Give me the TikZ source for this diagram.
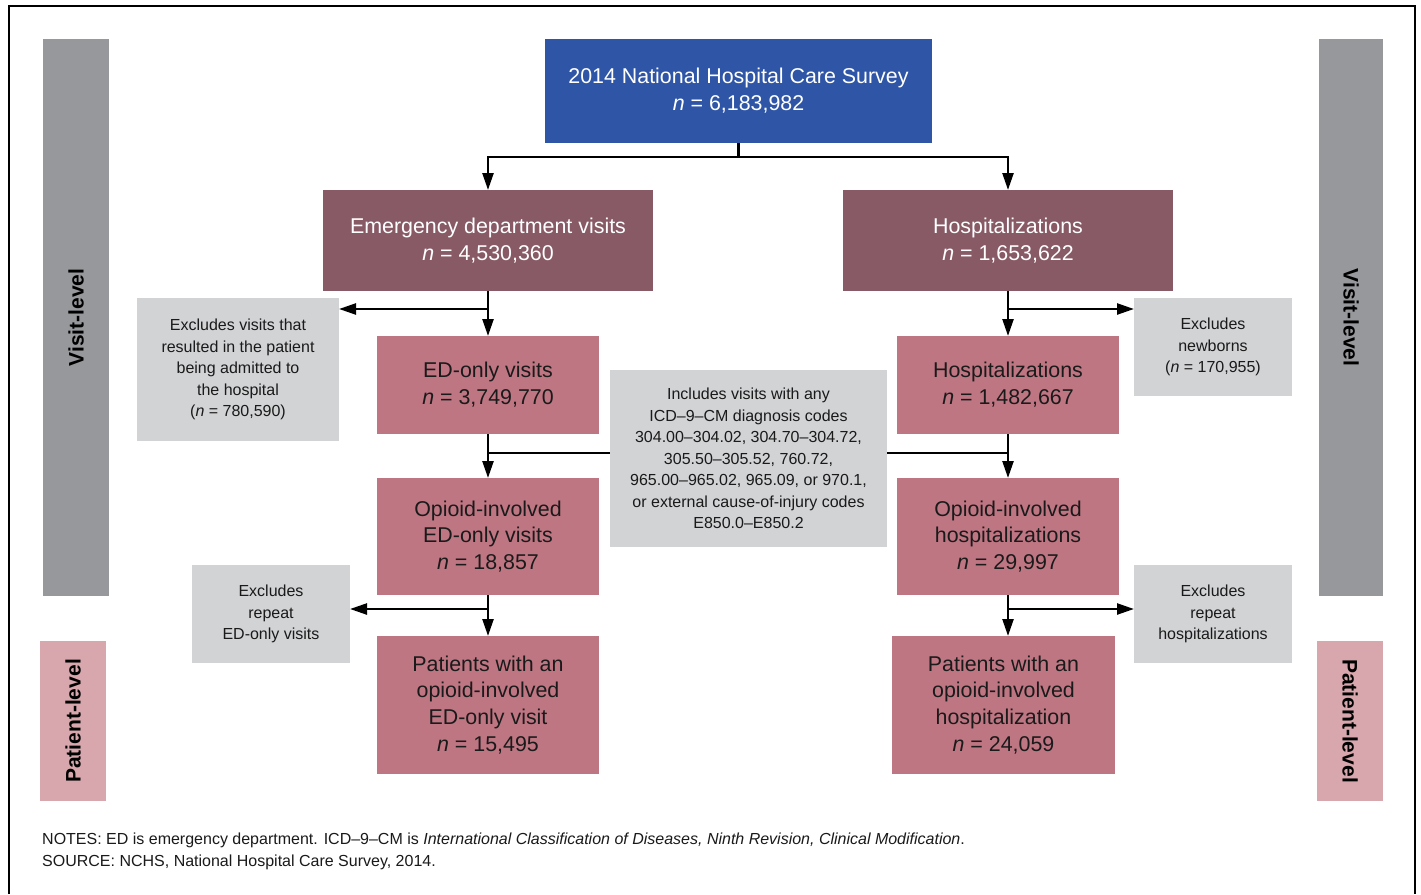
\documentclass[tikz,border=0pt]{standalone}
\usepackage{fontspec}
\setmainfont{Liberation Sans}
\usetikzlibrary{arrows.meta}

\definecolor{surveyblue}{RGB}{47,85,166}
\definecolor{mauve}{RGB}{135,90,102}
\definecolor{rose}{RGB}{191,118,131}
\definecolor{notegray}{RGB}{210,211,213}
\definecolor{bargray}{RGB}{151,152,156}
\definecolor{barpink}{RGB}{216,166,173}
\definecolor{ink}{RGB}{26,26,26}

\newcommand\boxfont{\fontsize{21.4}{26.8}\selectfont}
\newcommand\notefont{\fontsize{16}{21.5}\selectfont}
\newcommand\footfont{\fontsize{16}{22}\selectfont}
\newcommand\barfont{\fontsize{21}{26}\selectfont\bfseries}

\begin{document}
\begin{tikzpicture}[x=1pt,y=-1pt,
  blk/.style={inner sep=0pt, outer sep=0pt, align=center, anchor=center},
  topbox/.style={blk, fill=surveyblue, text=white, font=\boxfont},
  splitbox/.style={blk, fill=mauve, text=white, font=\boxfont},
  stagebox/.style={blk, fill=rose, text=ink, font=\boxfont},
  notebox/.style={blk, fill=notegray, text=ink, font=\notefont},
  levelbar/.style={blk},
  barlabel/.style={blk, text=black, font=\barfont},
  conn/.style={line width=2.4pt, black},
  flow/.style={conn, -{Triangle[length=17pt,width=11pt]}}
]
\useasboundingbox (0,0) rectangle (1421,894);
\fill[white] (0,0) rectangle (1421,894);

% outer frame, open at the bottom
\draw[line width=1.6pt] (9,894) -- (9,6) -- (1415,6) -- (1415,894);

% level bars on both sides
\node[levelbar, fill=bargray, minimum width=66, minimum height=557] (visitL) at (76,317.5) {};
\node[levelbar, fill=barpink, minimum width=66, minimum height=160] (patL) at (73,721) {};
\node[levelbar, fill=bargray, minimum width=64, minimum height=557] (visitR) at (1351,317.5) {};
\node[levelbar, fill=barpink, minimum width=66, minimum height=160] (patR) at (1350,721) {};
\node[barlabel, rotate=90] (visitLt) at (visitL.center) {Visit-level};
\node[barlabel, rotate=90] (patLt) at (patL.center) {Patient-level};
\node[barlabel, rotate=-90] (visitRt) at (visitR.center) {Visit-level};
\node[barlabel, rotate=-90] (patRt) at (patR.center) {Patient-level};

% flow boxes
\node[topbox, minimum width=387, minimum height=104] (survey) at (738.5,91)
  {2014 National Hospital Care Survey\\\textit{n} = 6,183,982};
\node[splitbox, minimum width=330, minimum height=101] (ed) at (488,240.5)
  {Emergency department visits\\\textit{n} = 4,530,360};
\node[splitbox, minimum width=330, minimum height=101] (hosp) at (1008,240.5)
  {Hospitalizations\\\textit{n} = 1,653,622};
\node[stagebox, minimum width=222, minimum height=98] (edonly) at (488,385)
  {ED-only visits\\\textit{n} = 3,749,770};
\node[stagebox, minimum width=222, minimum height=98] (hospb) at (1008,385)
  {Hospitalizations\\\textit{n} = 1,482,667};
\node[stagebox, minimum width=222, minimum height=117] (oed) at (488,536.5)
  {Opioid-involved\\ED-only visits\\\textit{n} = 18,857};
\node[stagebox, minimum width=222, minimum height=117] (ohosp) at (1008,536.5)
  {Opioid-involved\\hospitalizations\\\textit{n} = 29,997};
\node[stagebox, minimum width=222, minimum height=138] (ped) at (488,705)
  {Patients with an\\opioid-involved\\ED-only visit\\\textit{n} = 15,495};
\node[stagebox, minimum width=223, minimum height=138] (phosp) at (1003.5,705)
  {Patients with an\\opioid-involved\\hospitalization\\\textit{n} = 24,059};

% side notes
\node[notebox, minimum width=202, minimum height=143] (exadm) at (238,369.5)
  {Excludes visits that\\resulted in the patient\\being admitted to\\the hospital\\(\textit{n} = 780,590)};
\node[notebox, minimum width=158, minimum height=98] (exnew) at (1213,347)
  {Excludes\\newborns\\(\textit{n} = 170,955)};
\node[notebox, minimum width=277, minimum height=177] (incl) at (748.5,458.5)
  {Includes visits with any\\ICD--9--CM diagnosis codes\\304.00--304.02, 304.70--304.72,\\305.50--305.52, 760.72,\\965.00--965.02, 965.09, or 970.1,\\or external cause-of-injury codes\\E850.0--E850.2};
\node[notebox, minimum width=158, minimum height=98] (exrepa) at (271,614)
  {Excludes\\repeat\\ED-only visits};
\node[notebox, minimum width=158, minimum height=98] (exrepb) at (1213,614)
  {Excludes\\repeat\\hospitalizations};

% junction points on the vertical flow lines
\coordinate (fork) at (738.5,157);
\coordinate (edsplit) at (488,309);
\coordinate (hsplit) at (1008,309);
\coordinate (edmid) at (488,453);
\coordinate (hmid) at (1008,453);
\coordinate (edrep) at (488,609);
\coordinate (hrep) at (1008,609);

% connectors
\draw[conn] (survey.south) -- (fork);
\draw[flow] (fork) -| (ed.north);
\draw[flow] (fork) -| (hosp.north);
\draw[flow] (ed.south) -- (edonly.north);
\draw[flow] (hosp.south) -- (hospb.north);
\draw[flow] (edsplit) -- (edsplit -| exadm.east);
\draw[flow] (hsplit) -- (hsplit -| exnew.west);
\draw[flow] (edonly.south) -- (oed.north);
\draw[flow] (hospb.south) -- (ohosp.north);
\draw[conn] (edmid) -- (edmid -| incl.west);
\draw[conn] (hmid) -- (hmid -| incl.east);
\draw[flow] (oed.south) -- (ped.north);
\draw[flow] (ohosp.south) -- (ohosp.south |- phosp.north);
\draw[flow] (edrep) -- (edrep -| exrepa.east);
\draw[flow] (hrep) -- (hrep -| exrepb.west);

% footnotes
\node[anchor=base west, inner sep=0pt, font=\footfont, text=ink] (notes) at (42,844)
  {NOTES: ED is emergency department. ICD--9--CM is \textit{International Classification of Diseases, Ninth Revision, Clinical Modification}.};
\node[anchor=base west, inner sep=0pt, font=\footfont, text=ink] (source) at (42,866)
  {SOURCE: NCHS, National Hospital Care Survey, 2014.};
\end{tikzpicture}
\end{document}
